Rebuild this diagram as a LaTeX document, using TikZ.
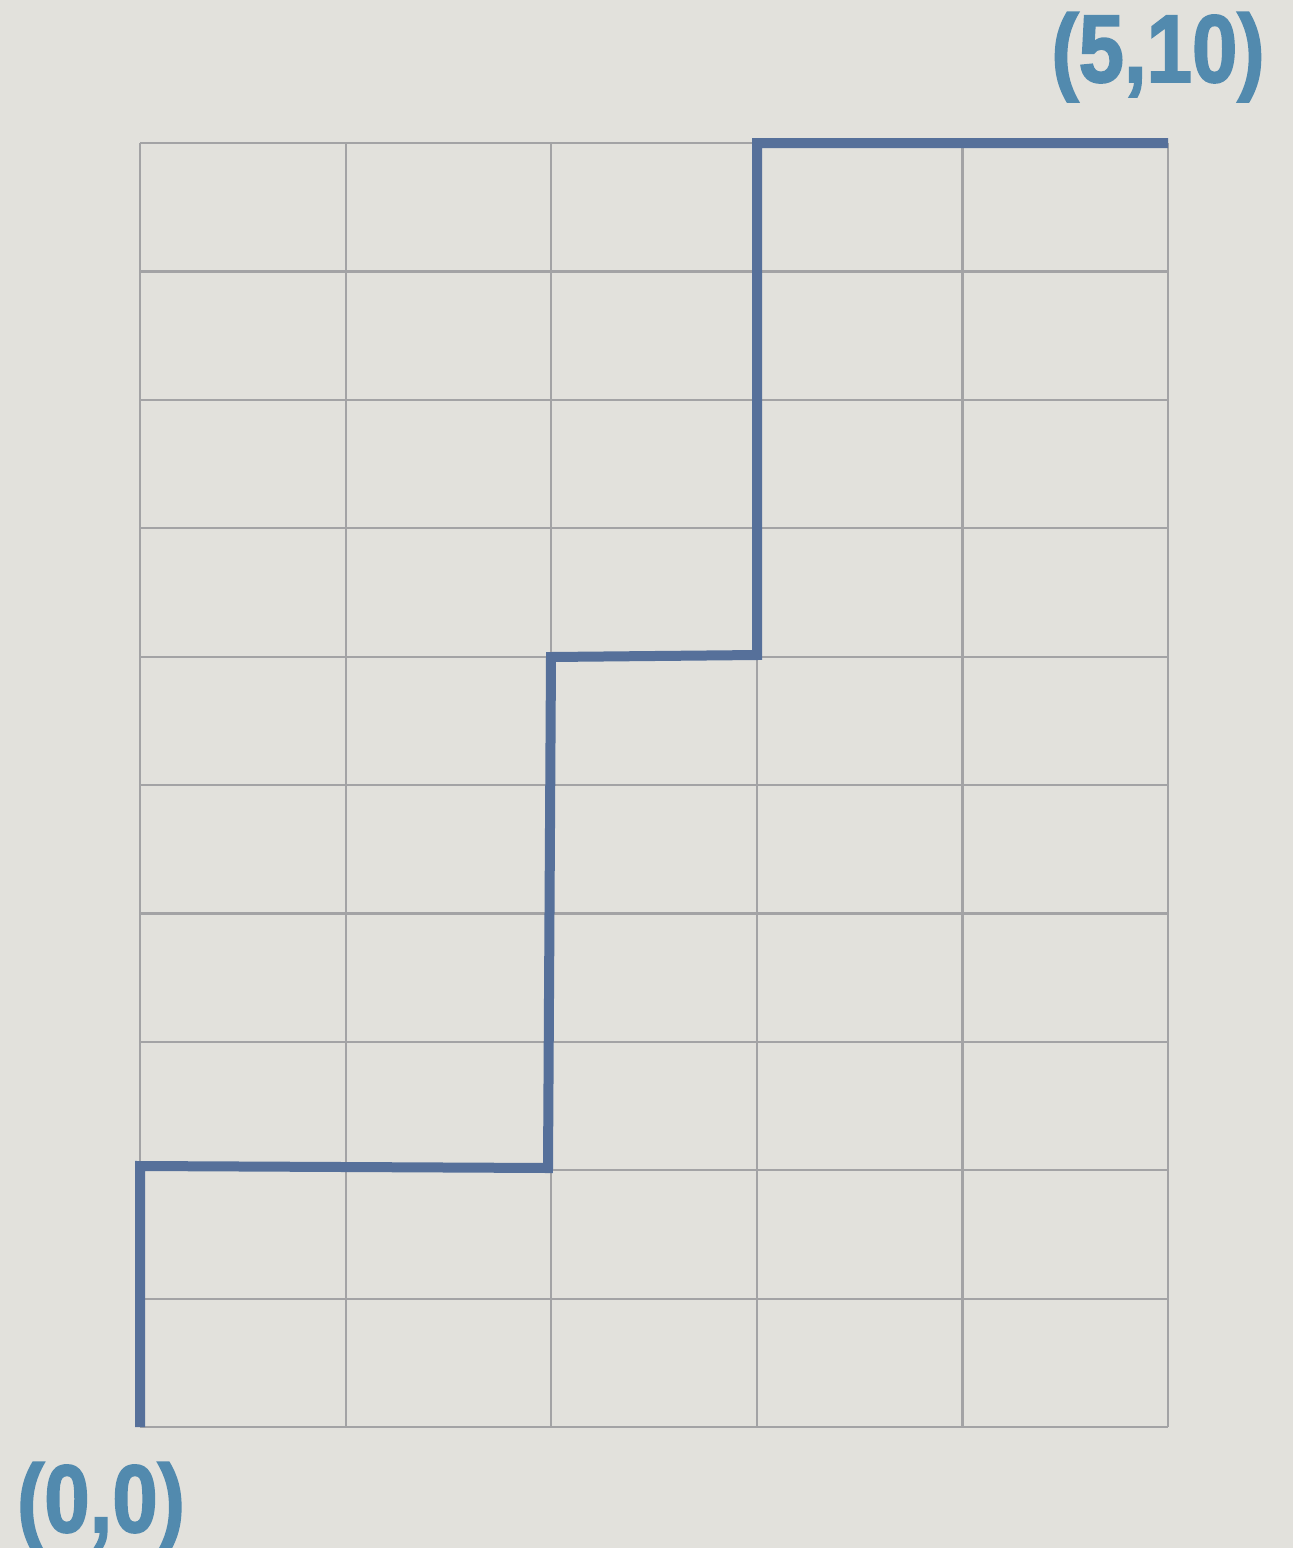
\documentclass[tikz,border=0pt]{standalone}
\usepackage{fontspec}
\setmainfont{Liberation Sans}
\newfontfamily\labfont{Liberation Sans Bold}[FakeBold=2]
\definecolor{bgcol}{HTML}{E2E1DC}
\definecolor{gridcol}{HTML}{A3A3A5}
\definecolor{pathcol}{HTML}{56709A}
\definecolor{labcol}{HTML}{528AAE}
\tikzset{
  gridline/.style={draw=gridcol, line width=2.2pt},
  stair/.style={draw=pathcol, line width=10pt, line join=miter},
  coordlabel/.style={text=labcol, font=\labfont\fontsize{96}{96}\selectfont, inner sep=0pt, xscale=0.85, transform shape}
}
\begin{document}
\begin{tikzpicture}[x=1pt, y=-1pt]
  \fill[bgcol] (0,0) rectangle (1293,1548);
  \useasboundingbox (0,0) rectangle (1293,1548);
  % grid
  \foreach \i in {0,...,5} {
    \draw[gridline] ({140+\i*205.6},143) -- ({140+\i*205.6},1427);
  }
  \foreach \j in {0,...,10} {
    \draw[gridline] (140,{143+\j*128.4}) -- (1168,{143+\j*128.4});
  }
  % staircase path
  \coordinate (p0) at (140,1427);
  \coordinate (p1) at (140,1166);
  \coordinate (p2) at (548,1168);
  \coordinate (p3) at (551,657);
  \coordinate (p4) at (757,655);
  \coordinate (p5) at (757,143);
  \coordinate (p6) at (1168,143);
  \draw[stair] (p0) -- (p1) -- (p2) -- (p3) -- (p4) -- (p5) -- (p6);
  % labels
  \node[coordlabel, anchor=base] (end) at (1158,82) {(5,10)};
  \node[coordlabel, anchor=base] (start) at (101,1532) {(0,0)};
\end{tikzpicture}
\end{document}
